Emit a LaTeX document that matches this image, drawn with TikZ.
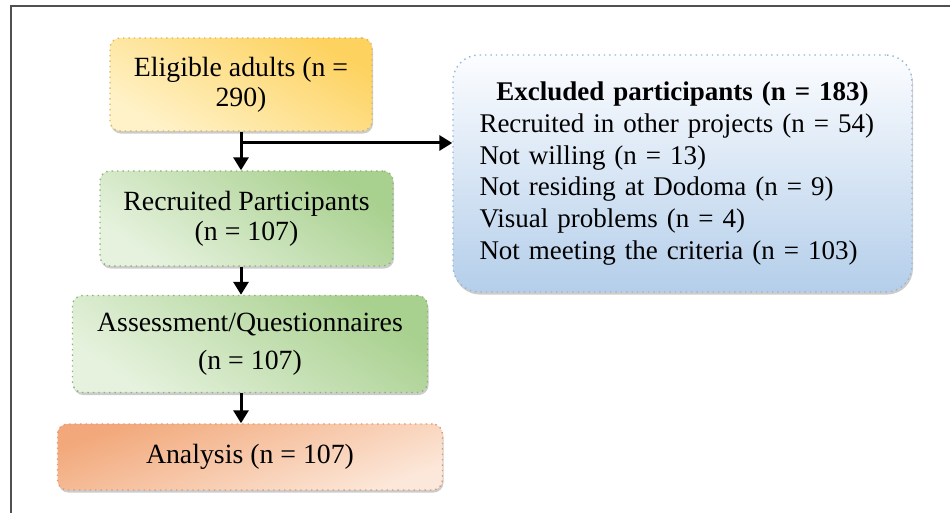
\documentclass[tikz,border=0pt]{standalone}
\usepackage{fontspec}
\setmainfont{Liberation Serif}
\usetikzlibrary{arrows.meta,shadows}
\definecolor{eligdark}{RGB}{253,210,95}
\definecolor{eliglight}{RGB}{255,242,200}
\definecolor{eligline}{RGB}{220,182,90}
\definecolor{recdark}{RGB}{168,208,142}
\definecolor{reclight}{RGB}{230,242,222}
\definecolor{recline}{RGB}{138,180,112}
\definecolor{anadark}{RGB}{242,168,122}
\definecolor{analight}{RGB}{252,232,218}
\definecolor{analine}{RGB}{228,150,108}
\definecolor{excdark}{RGB}{180,206,234}
\definecolor{exclight}{RGB}{252,253,255}
\definecolor{excline}{RGB}{150,180,215}
\definecolor{framegray}{RGB}{80,80,80}

\tikzset{
  flowbox/.style={rounded corners=5pt, dotted, line width=0.7pt, align=center, inner sep=0pt,
    font=\fontsize{13.9}{15}\selectfont,
    drop shadow={shadow xshift=0.5pt, shadow yshift=-1.3pt, opacity=0.4}},
  greenbox/.style={flowbox, top color=recdark, bottom color=reclight,
    shading angle=-35, draw=recline},
  arr/.style={-{Triangle[length=6.5pt,width=7.5pt]}, line width=1.5pt}
}

\begin{document}
\begin{tikzpicture}[x=0.5pt,y=-0.5pt]
    \useasboundingbox (0,0) rectangle (950,513);
    % frame
    \draw[framegray,line width=1pt] (11,513) -- (11,6) -- (950,6);
    % main column
    \node[flowbox, top color=eligdark, bottom color=eliglight, shading angle=-30, draw=eligline,
        minimum width=131pt, minimum height=46.5pt] (elig) at (241,84.5)
        {Eligible adults (n =\\290)};
    \node[greenbox, minimum width=146.5pt, minimum height=47.5pt] (recr) at (246.5,218.5)
        {Recruited Participants\\(n = 107)};
    \node[greenbox, minimum width=177.5pt, minimum height=48.5pt] (assess) at (250,344)
        {Assessment/Questionnaires\\[4pt](n = 107)};
    \node[flowbox, top color=anadark, bottom color=analight, shading angle=20, draw=analine,
        minimum width=192.5pt, minimum height=33pt] (anal) at (250,457)
        {Analysis (n = 107)};
    % excluded
    \node[flowbox, rounded corners=13pt, top color=exclight, bottom color=excdark, draw=excline,
        minimum width=229.5pt, minimum height=118.5pt, text width=203pt, align=left,
        font=\fontsize{13.5}{15.85}\selectfont] (excl) at (682.5,173.5)
        {\makebox[\linewidth]{\bfseries Excluded participants (n = 183)}\\
         Recruited in other projects (n = 54)\\
         Not willing (n = 13)\\
         Not residing at Dodoma (n = 9)\\
         Visual problems (n = 4)\\
         Not meeting the criteria (n = 103)};
    % arrows
    \coordinate (split) at (elig.south |- 0,143);
    \draw[arr] (elig.south) -- (elig.south |- recr.north);
    \draw[arr] (split) -- (split -| excl.west);
    \draw[arr] (elig.south |- recr.south) -- (elig.south |- assess.north);
    \draw[arr] (elig.south |- assess.south) -- (elig.south |- anal.north);
\end{tikzpicture}
\end{document}
